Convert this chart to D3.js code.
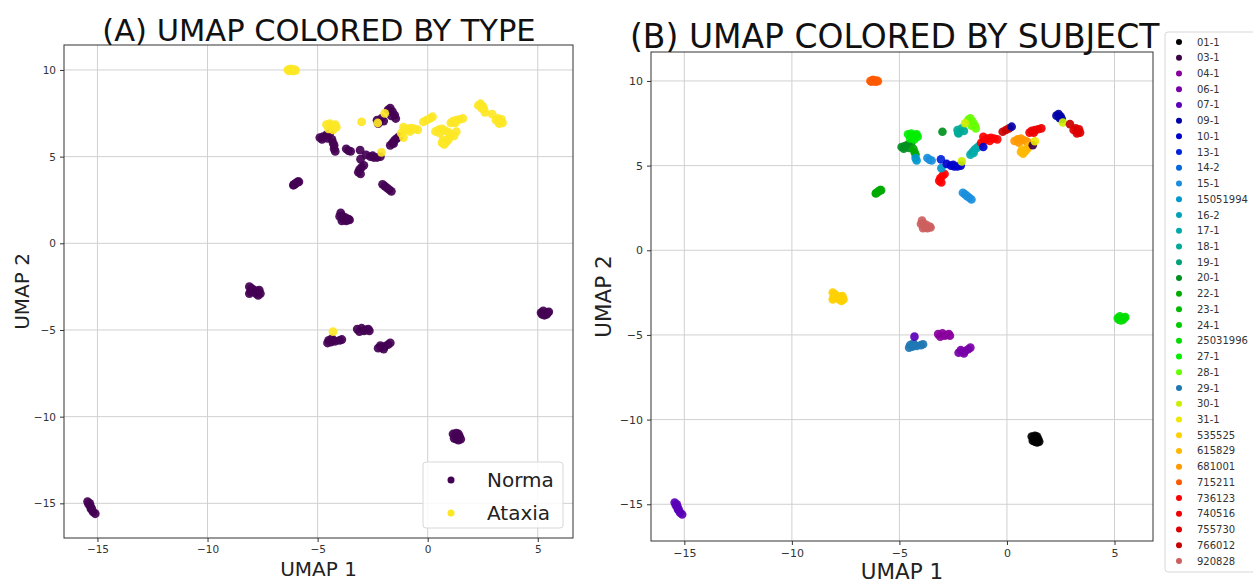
<!DOCTYPE html>
<html>
<head>
<meta charset="utf-8">
<script src="https://cdn.jsdelivr.net/npm/d3@7"></script>
<style>
  html, body { margin: 0; padding: 0; background: #fff; }
  svg { display: block; font-family: "DejaVu Sans", sans-serif; }
</style>
</head>
<body>
<svg id="chart" width="1253" height="585"></svg>
<script>
// Subject IDs in legend order
const subjectIds = ["01-1","03-1","04-1","06-1","07-1","09-1","10-1","13-1","14-2","15-1",
  "15051994","16-2","17-1","18-1","19-1","20-1","22-1","23-1","24-1","25031996",
  "27-1","28-1","29-1","30-1","31-1","535525","615829","681001","715211","736123",
  "740516","755730","766012","920828"];

// Recording types
const typeLabels = ["Norma", "Ataxia"];

// Axis ticks
const xTicks = [-15, -10, -5, 0, 5];
const yTicks = [-15, -10, -5, 0, 5, 10];

// UMAP embedding, grouped by subject and type: [subject, type, [[umap1, umap2], ...]]
const embedding = [
  ["07-1", "Norma", [[-15.45,-14.9],[-15.4,-15.05],[-15.35,-15.0],[-15.3,-15.2],[-15.25,-15.35],[-15.2,-15.5],[-15.1,-15.6],[-15.3,-15.3]]],
  ["01-1", "Norma", [[1.15,-11.0],[1.25,-11.1],[1.35,-11.2],[1.45,-11.15],[1.3,-11.3],[1.2,-11.25],[1.4,-11.0],[1.5,-11.3],[1.3,-10.95],[1.4,-11.35]]],
  ["25031996", "Norma", [[5.15,-4.0],[5.25,-3.9],[5.35,-4.05],[5.45,-4.0],[5.3,-4.15],[5.2,-4.1],[5.5,-3.95],[5.4,-4.1]]],
  ["535525", "Norma", [[-8.1,-2.5],[-8.0,-2.6],[-7.9,-2.7],[-8.05,-2.8],[-7.8,-2.9],[-7.7,-3.0],[-7.6,-2.9],[-7.75,-2.75],[-8.1,-2.9],[-7.65,-2.7]]],
  ["29-1", "Norma", [[-4.5,-5.6],[-4.4,-5.7],[-4.3,-5.6],[-4.2,-5.65],[-4.0,-5.6],[-3.9,-5.55],[-4.35,-5.5],[-4.55,-5.75]]],
  ["07-1", "Ataxia", [[-4.3,-5.1]]],
  ["04-1", "Norma", [[-3.2,-4.95],[-3.0,-4.9],[-2.8,-5.0],[-2.65,-5.05],[-3.1,-5.1],[-2.9,-5.05],[-2.7,-4.95]]],
  ["06-1", "Norma", [[-2.25,-6.05],[-2.1,-6.0],[-1.95,-5.95],[-1.8,-5.85],[-1.7,-5.75],[-2.0,-6.1],[-2.15,-5.9]]],
  ["920828", "Norma", [[-3.95,1.75],[-3.9,1.6],[-3.85,1.45],[-3.8,1.35],[-3.7,1.3],[-3.55,1.35],[-3.9,1.3],[-3.75,1.5],[-4.0,1.55],[-3.6,1.4]]],
  ["22-1", "Norma", [[-6.1,3.35],[-6.05,3.4],[-6.0,3.45],[-5.95,3.5],[-5.9,3.55],[-5.85,3.55],[-6.08,3.38]]],
  ["715211", "Ataxia", [[-6.35,10.0],[-6.25,10.05],[-6.15,10.0],[-6.05,10.02],[-6.3,9.95],[-6.1,9.95],[-6.2,10.05],[-6.0,9.98]]],
  ["15-1", "Norma", [[-2.05,3.4],[-1.95,3.3],[-1.85,3.2],[-1.75,3.1],[-1.65,3.0]]],
  ["736123", "Norma", [[-3.15,4.1],[-3.1,4.25],[-3.0,4.4],[-2.9,4.5],[-3.05,4.0]]],
  ["20-1", "Norma", [[-4.9,6.1],[-4.75,6.15],[-4.6,6.25],[-4.45,6.35],[-4.8,6.0],[-4.55,6.05]]],
  ["27-1", "Ataxia", [[-4.6,6.85],[-4.45,6.9],[-4.3,6.8],[-4.15,6.7],[-4.5,6.6],[-4.3,6.55],[-4.2,6.85]]],
  ["22-1", "Norma", [[-4.35,6.0],[-4.3,5.8],[-4.25,5.65]]],
  ["15051994", "Norma", [[-4.25,5.45],[-4.2,5.3],[-3.05,4.85]]],
  ["15-1", "Norma", [[-3.7,5.45],[-3.6,5.35],[-3.5,5.3]]],
  ["13-1", "Norma", [[-3.07,5.37]]],
  ["10-1", "Norma", [[-2.8,5.1],[-2.6,5.0],[-2.45,4.95],[-2.3,4.95],[-2.15,5.0],[-2.5,5.05]]],
  ["30-1", "Ataxia", [[-2.1,5.25]]],
  ["20-1", "Ataxia", [[-3.0,7.0]]],
  ["18-1", "Norma", [[-2.3,7.1],[-2.2,7.0],[-2.1,7.2],[-2.0,7.05],[-2.25,6.9]]],
  ["18-1", "Ataxia", [[-2.27,6.94]]],
  ["28-1", "Norma", [[-1.8,7.7],[-1.7,7.8],[-1.6,7.6],[-1.5,7.4],[-1.45,7.2],[-1.65,7.35]]],
  ["30-1", "Ataxia", [[-1.95,7.5]]],
  ["17-1", "Norma", [[-1.7,5.65],[-1.6,5.8],[-1.5,5.95],[-1.4,6.05],[-1.3,6.15],[-1.55,5.75]]],
  ["736123", "Ataxia", [[-1.2,6.35],[-1.05,6.5],[-0.9,6.6],[-0.75,6.65],[-0.6,6.6],[-0.45,6.55],[-1.1,6.7],[-0.8,6.45]]],
  ["10-1", "Ataxia", [[-1.1,6.1]]],
  ["766012", "Ataxia", [[-0.2,7.0],[-0.05,7.1],[0.1,7.2]]],
  ["09-1", "Ataxia", [[0.22,7.3]]],
  ["681001", "Ataxia", [[0.35,6.45],[0.5,6.55],[0.65,6.6],[0.8,6.5],[0.95,6.4],[0.55,6.35]]],
  ["615829", "Ataxia", [[0.65,5.8],[0.75,5.7],[0.85,5.85],[0.95,6.0],[1.0,6.15],[0.7,5.95]]],
  ["740516", "Ataxia", [[1.05,6.95],[1.15,7.05],[1.3,7.1],[1.45,7.15],[1.6,7.2],[1.25,6.95]]],
  ["03-1", "Ataxia", [[1.2,6.2]]],
  ["31-1", "Ataxia", [[1.3,6.44]]],
  ["09-1", "Ataxia", [[2.3,7.95],[2.4,8.05],[2.5,7.9],[2.55,7.75],[2.45,7.8]]],
  ["30-1", "Ataxia", [[2.6,7.55]]],
  ["766012", "Ataxia", [[2.93,7.45]]],
  ["755730", "Ataxia", [[3.1,7.1],[3.2,7.2],[3.3,7.0],[3.4,6.95],[3.25,6.9],[3.35,7.15]]]
];

// Colour palettes
const typeColors = ["#440154", "#fde725"];
const subjectColors = ["#000000","#3d0047","#8a009c","#7800a8","#5a00b8","#0000a8","#0000cc","#0022dd","#0066dd","#1a8fdd",
  "#0099cc","#00a3b8","#00aaaa","#00aa99","#00a078","#009020","#00aa00","#00bb00","#00cc00","#00dd00",
  "#00ee00","#66ff00","#1f77b4","#ccee00","#eee800","#ffd000","#ffb800","#ff9900","#ff5a00","#ff0000",
  "#ee0000","#dd0000","#c80000","#cd5f5f"];

const points = embedding.flatMap(([subject, type, coords]) =>
  coords.map(([x, y]) => ({ x, y, subject, type })));

const typeColor = d3.scaleOrdinal().domain(typeLabels).range(typeColors);
const subjectColor = d3.scaleOrdinal().domain(subjectIds).range(subjectColors);

const svg = d3.select("#chart");

function drawPanel(cfg) {
  const x = d3.scaleLinear().domain(cfg.xDomain).range([cfg.left, cfg.right]);
  const y = d3.scaleLinear().domain(cfg.yDomain).range([cfg.bottom, cfg.top]);
  const g = svg.append("g");

  // grid
  g.append("g").selectAll("line").data(xTicks).join("line")
    .attr("x1", d => x(d)).attr("x2", d => x(d))
    .attr("y1", cfg.top).attr("y2", cfg.bottom)
    .attr("stroke", "#d0d0d0").attr("stroke-width", 1);
  g.append("g").selectAll("line").data(yTicks).join("line")
    .attr("y1", d => y(d)).attr("y2", d => y(d))
    .attr("x1", cfg.left).attr("x2", cfg.right)
    .attr("stroke", "#d0d0d0").attr("stroke-width", 1);

  // points
  g.append("g").selectAll("circle").data(points).join("circle")
    .attr("cx", d => x(d.x)).attr("cy", d => y(d.y))
    .attr("r", cfg.r)
    .attr("fill", d => cfg.color(d))
    .attr("fill-opacity", 0.92);

  // axes
  const xAxis = g.append("g").attr("transform", `translate(0,${cfg.bottom})`)
    .call(d3.axisBottom(x).tickValues(xTicks).tickSize(4).tickPadding(4).tickFormat(d3.format("d")));
  const yAxis = g.append("g").attr("transform", `translate(${cfg.left},0)`)
    .call(d3.axisLeft(y).tickValues(yTicks).tickSize(4).tickPadding(4).tickFormat(d3.format("d")));
  [xAxis, yAxis].forEach(a => {
    a.select(".domain").remove();
    a.selectAll(".tick line").attr("stroke", "#333");
    a.selectAll(".tick text").attr("fill", "#333")
      .style("font-family", "DejaVu Sans").style("font-size", cfg.tickFont + "px");
  });

  // frame
  g.append("rect")
    .attr("x", cfg.left).attr("y", cfg.top)
    .attr("width", cfg.right - cfg.left).attr("height", cfg.bottom - cfg.top)
    .attr("fill", "none").attr("stroke", "#333").attr("stroke-width", 1);

  // labels
  g.append("text").attr("x", (cfg.left + cfg.right) / 2).attr("y", cfg.xLabelY)
    .attr("text-anchor", "middle").style("font-size", cfg.labelFont + "px").attr("fill", "#222")
    .text("UMAP 1");
  g.append("text")
    .attr("transform", `translate(${cfg.yLabelX},${(cfg.top + cfg.bottom) / 2}) rotate(-90)`)
    .attr("text-anchor", "middle").style("font-size", cfg.labelFont + "px").attr("fill", "#222")
    .text("UMAP 2");
  g.append("text").attr("x", cfg.titleX).attr("y", cfg.titleY)
    .attr("text-anchor", cfg.titleAnchor).style("font-size", cfg.titleFont + "px").attr("fill", "#111")
    .text(cfg.title);
  return g;
}

// (A) coloured by type
const gA = drawPanel({
  left: 64, right: 573, top: 45, bottom: 538,
  xDomain: [-16.52, 6.6], yDomain: [-17.0, 11.44],
  r: 4.4, color: d => typeColor(d.type),
  tickFont: 10.5, labelFont: 20, xLabelY: 576, yLabelX: 29,
  title: "(A) UMAP COLORED BY TYPE", titleX: 319, titleY: 41, titleAnchor: "middle", titleFont: 30.5
});

// legend (A)
const legA = gA.append("g");
legA.append("rect").attr("x", 423).attr("y", 462).attr("width", 140).attr("height", 66)
  .attr("rx", 3).attr("fill", "#fff").attr("fill-opacity", 0.85).attr("stroke", "#d8d8d8");
typeLabels.forEach((t, i) => {
  const cy = 480 + i * 33;
  legA.append("circle").attr("cx", 451).attr("cy", cy).attr("r", 3.5).attr("fill", typeColor(t));
  legA.append("text").attr("x", 487).attr("y", cy).attr("dy", "0.35em")
    .style("font-size", "20px").attr("fill", "#222").text(t);
});

// (B) coloured by subject
const gB = drawPanel({
  left: 651, right: 1153, top: 52, bottom: 541,
  xDomain: [-16.55, 6.79], yDomain: [-17.17, 11.71],
  r: 4.3, color: d => subjectColor(d.subject),
  tickFont: 11, labelFont: 21.5, xLabelY: 579, yLabelX: 611,
  title: "(B) UMAP COLORED BY SUBJECT", titleX: 630, titleY: 48, titleAnchor: "start", titleFont: 33
});

// legend (B)
const legB = svg.append("g");
legB.append("rect").attr("x", 1165).attr("y", 32).attr("width", 92).attr("height", 540)
  .attr("rx", 3).attr("fill", "#fff").attr("fill-opacity", 0.92).attr("stroke", "#d8d8d8");
const legY = d3.scalePoint().domain(subjectIds).range([42, 561]);
legB.selectAll("circle").data(subjectIds).join("circle")
  .attr("cx", 1179).attr("cy", d => legY(d)).attr("r", 3).attr("fill", d => subjectColor(d));
legB.selectAll("text").data(subjectIds).join("text")
  .attr("x", 1197).attr("y", d => legY(d)).attr("dy", "0.35em")
  .style("font-size", "10px").attr("fill", "#333").text(d => d);
</script>
</body>
</html>
